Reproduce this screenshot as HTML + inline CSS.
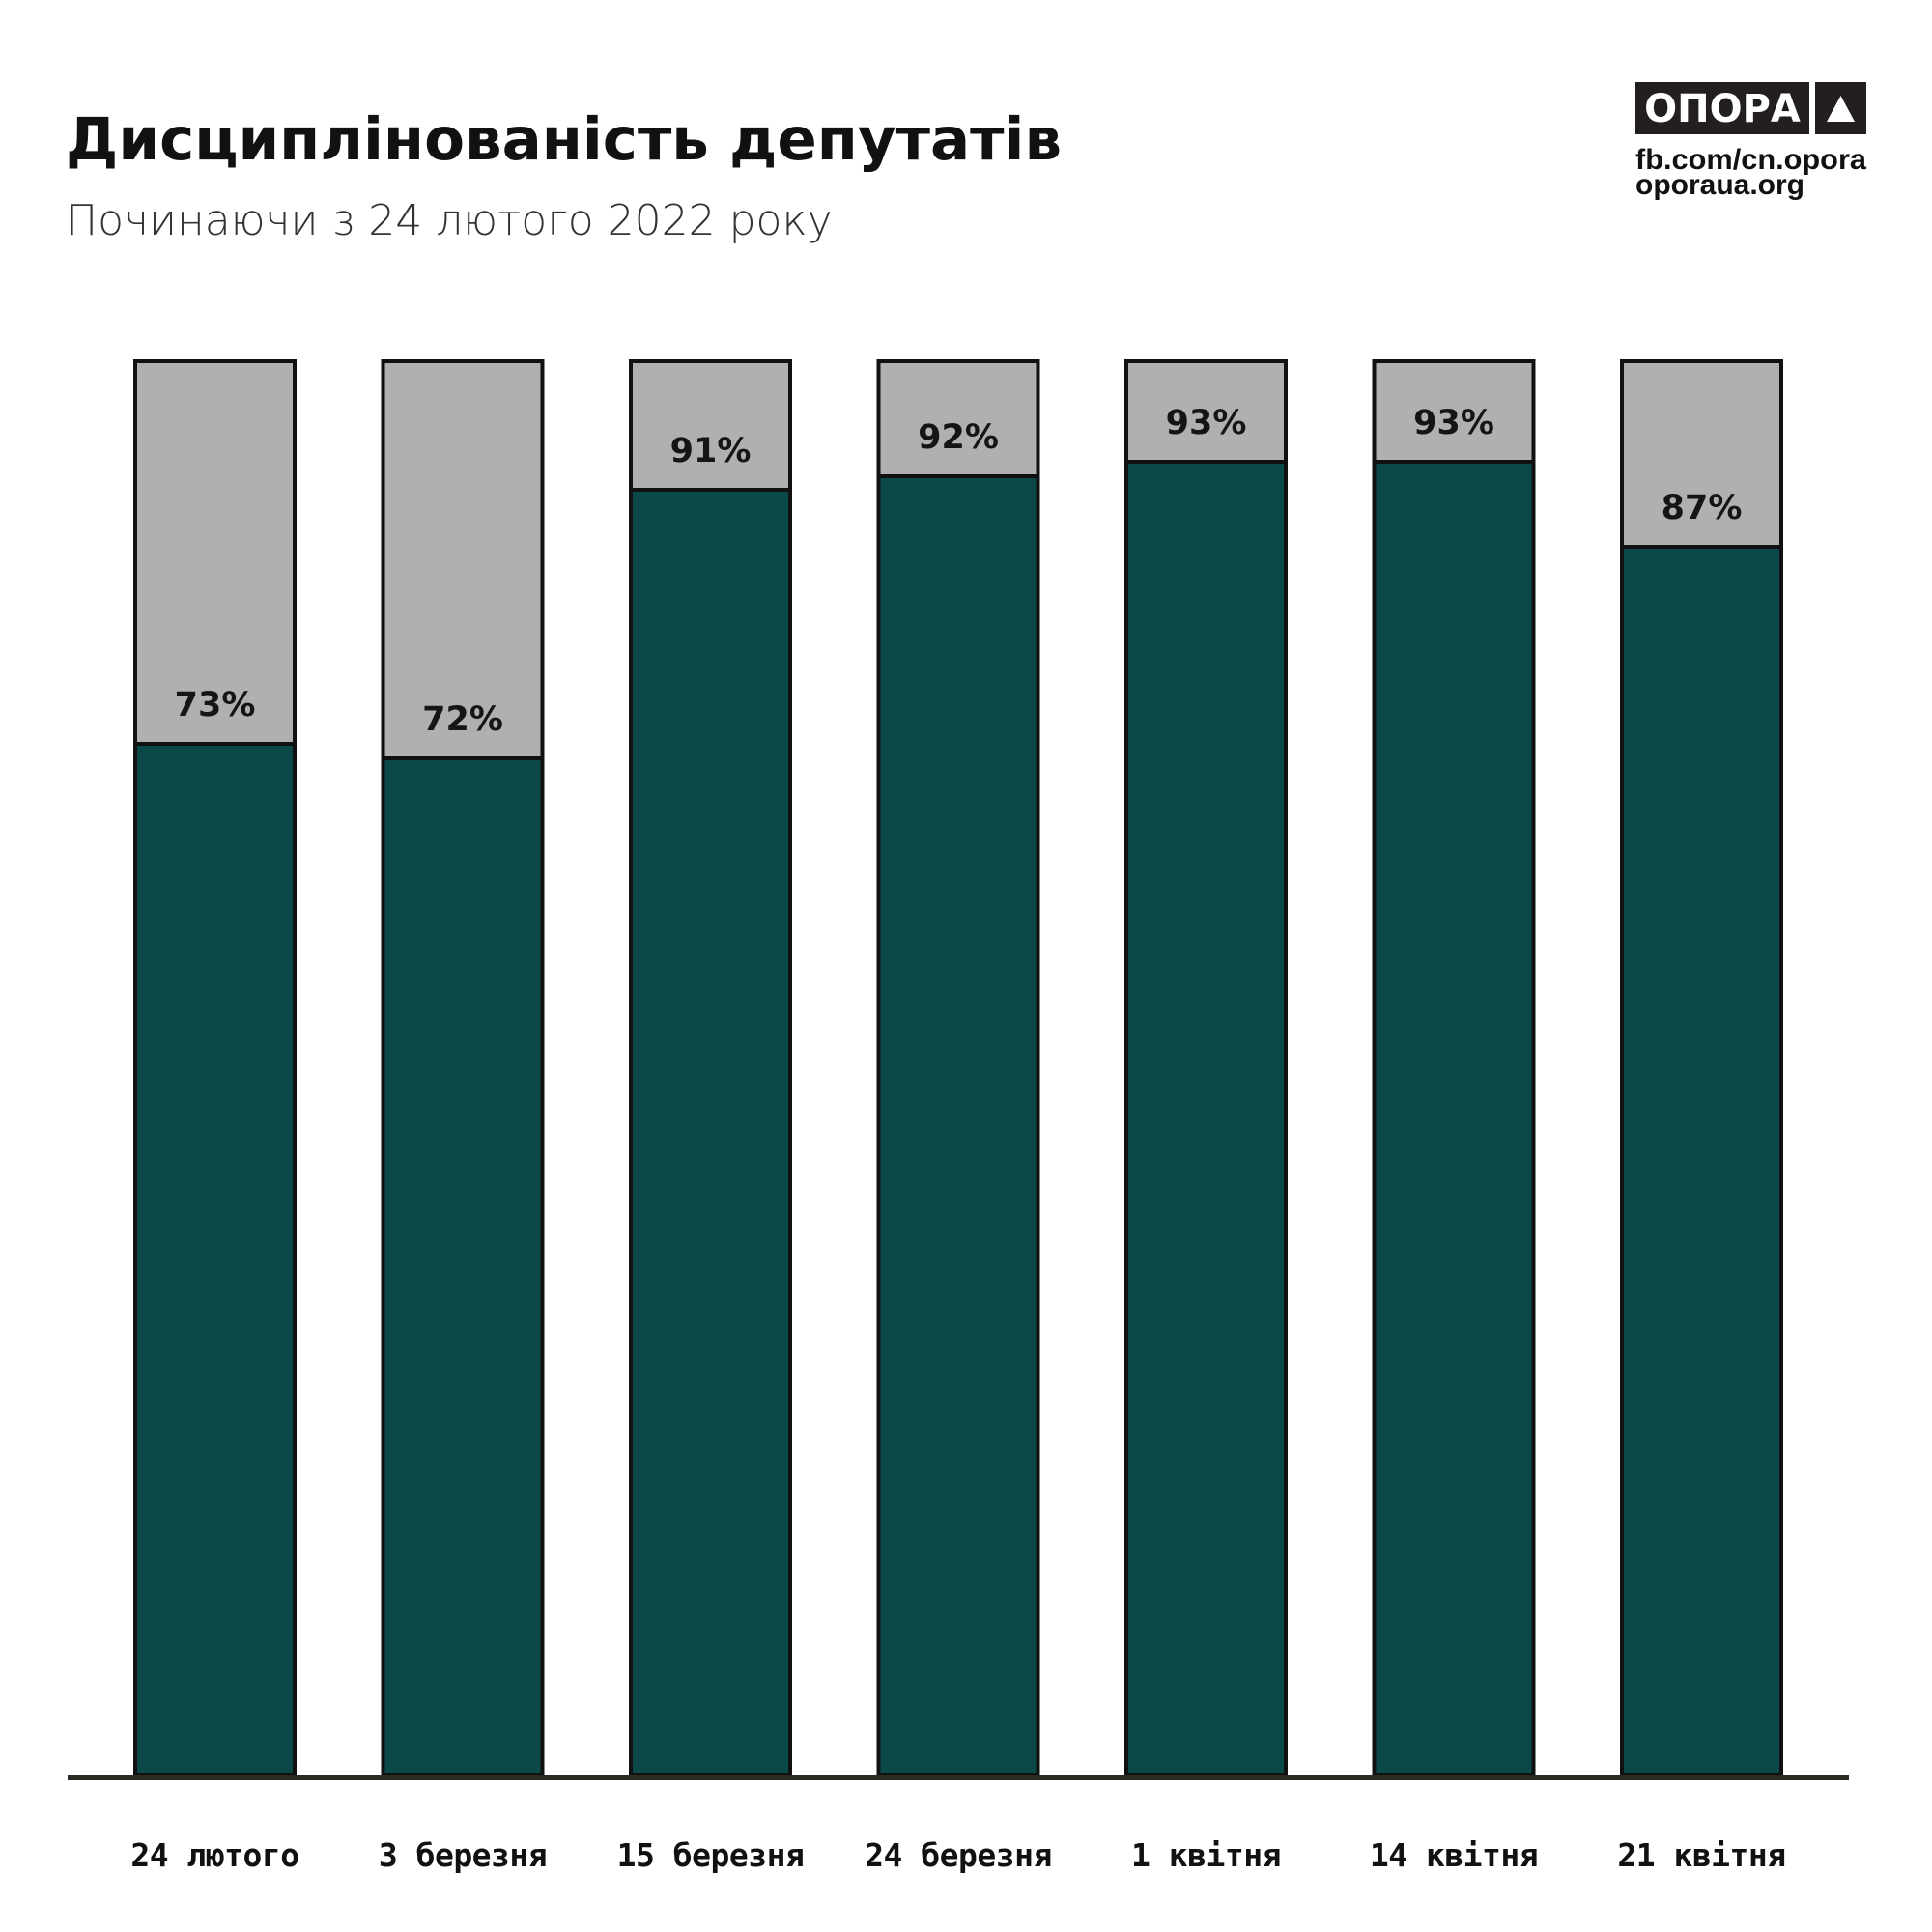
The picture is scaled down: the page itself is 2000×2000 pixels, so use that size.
<!DOCTYPE html>
<html><head><meta charset="utf-8"><style>
html,body{margin:0;padding:0;background:#fff;width:2000px;height:2000px;overflow:hidden}
</style></head><body>
<svg width="2000" height="2000" viewBox="0 0 2000 2000" xmlns="http://www.w3.org/2000/svg">
<rect width="2000" height="2000" fill="#fff"/>
<text x="68" y="165" font-family="'DejaVu Sans','Liberation Sans',sans-serif" font-weight="bold" font-size="61" fill="#111">Дисциплінованість депутатів</text>
<text x="68" y="243" font-family="'DejaVu Sans','Liberation Sans',sans-serif" font-weight="300" font-size="44" fill="#333">Починаючи з 24 лютого 2022 року</text>
<rect x="1693" y="85" width="180" height="54" fill="#231f20"/>
<text x="1783" y="126" text-anchor="middle" font-family="'DejaVu Sans',sans-serif" font-weight="bold" font-size="40" fill="#fff">ОПОРА</text>
<rect x="1879" y="85" width="53" height="54" fill="#231f20"/>
<polygon points="1905.5,99 1920,126 1891,126" fill="#fff"/>
<text x="1693" y="175" font-family="'Liberation Sans',sans-serif" font-weight="bold" font-size="30" fill="#111" textLength="239" lengthAdjust="spacingAndGlyphs">fb.com/cn.opora</text>
<text x="1693" y="201" font-family="'Liberation Sans',sans-serif" font-weight="bold" font-size="30" fill="#111" textLength="175" lengthAdjust="spacingAndGlyphs">oporaua.org</text>
<g stroke="#111" stroke-width="4">
<rect x="140" y="374" width="165" height="1463" fill="#b0b0b0"/><rect x="140" y="770" width="165" height="1067" fill="#0b4848"/>
<rect x="396.5" y="374" width="165" height="1463" fill="#b0b0b0"/><rect x="396.5" y="785" width="165" height="1052" fill="#0b4848"/>
<rect x="653" y="374" width="165" height="1463" fill="#b0b0b0"/><rect x="653" y="507" width="165" height="1330" fill="#0b4848"/>
<rect x="909.5" y="374" width="165" height="1463" fill="#b0b0b0"/><rect x="909.5" y="493" width="165" height="1344" fill="#0b4848"/>
<rect x="1166" y="374" width="165" height="1463" fill="#b0b0b0"/><rect x="1166" y="478" width="165" height="1359" fill="#0b4848"/>
<rect x="1422.5" y="374" width="165" height="1463" fill="#b0b0b0"/><rect x="1422.5" y="478" width="165" height="1359" fill="#0b4848"/>
<rect x="1679" y="374" width="165" height="1463" fill="#b0b0b0"/><rect x="1679" y="566" width="165" height="1271" fill="#0b4848"/>
</g>
<rect x="70" y="1837" width="1844" height="6" fill="#2a2a22"/>
<g font-family="'DejaVu Sans',sans-serif" font-weight="bold" font-size="35" fill="#151515" text-anchor="middle">
<text x="222.5" y="741">73%</text><text x="479" y="756">72%</text><text x="735.5" y="478">91%</text>
<text x="992" y="464">92%</text><text x="1248.5" y="449">93%</text><text x="1505" y="449">93%</text><text x="1761.5" y="537">87%</text>
</g>
<g font-family="'DejaVu Sans Mono',monospace" font-weight="bold" font-size="33" fill="#111" text-anchor="middle" letter-spacing="-0.5">
<text x="222.5" y="1932">24 лютого</text><text x="479" y="1932">3 березня</text><text x="735.5" y="1932">15 березня</text>
<text x="992" y="1932">24 березня</text><text x="1248.5" y="1932">1 квітня</text><text x="1505" y="1932">14 квітня</text><text x="1761.5" y="1932">21 квітня</text>
</g>
</svg>
</body></html>
